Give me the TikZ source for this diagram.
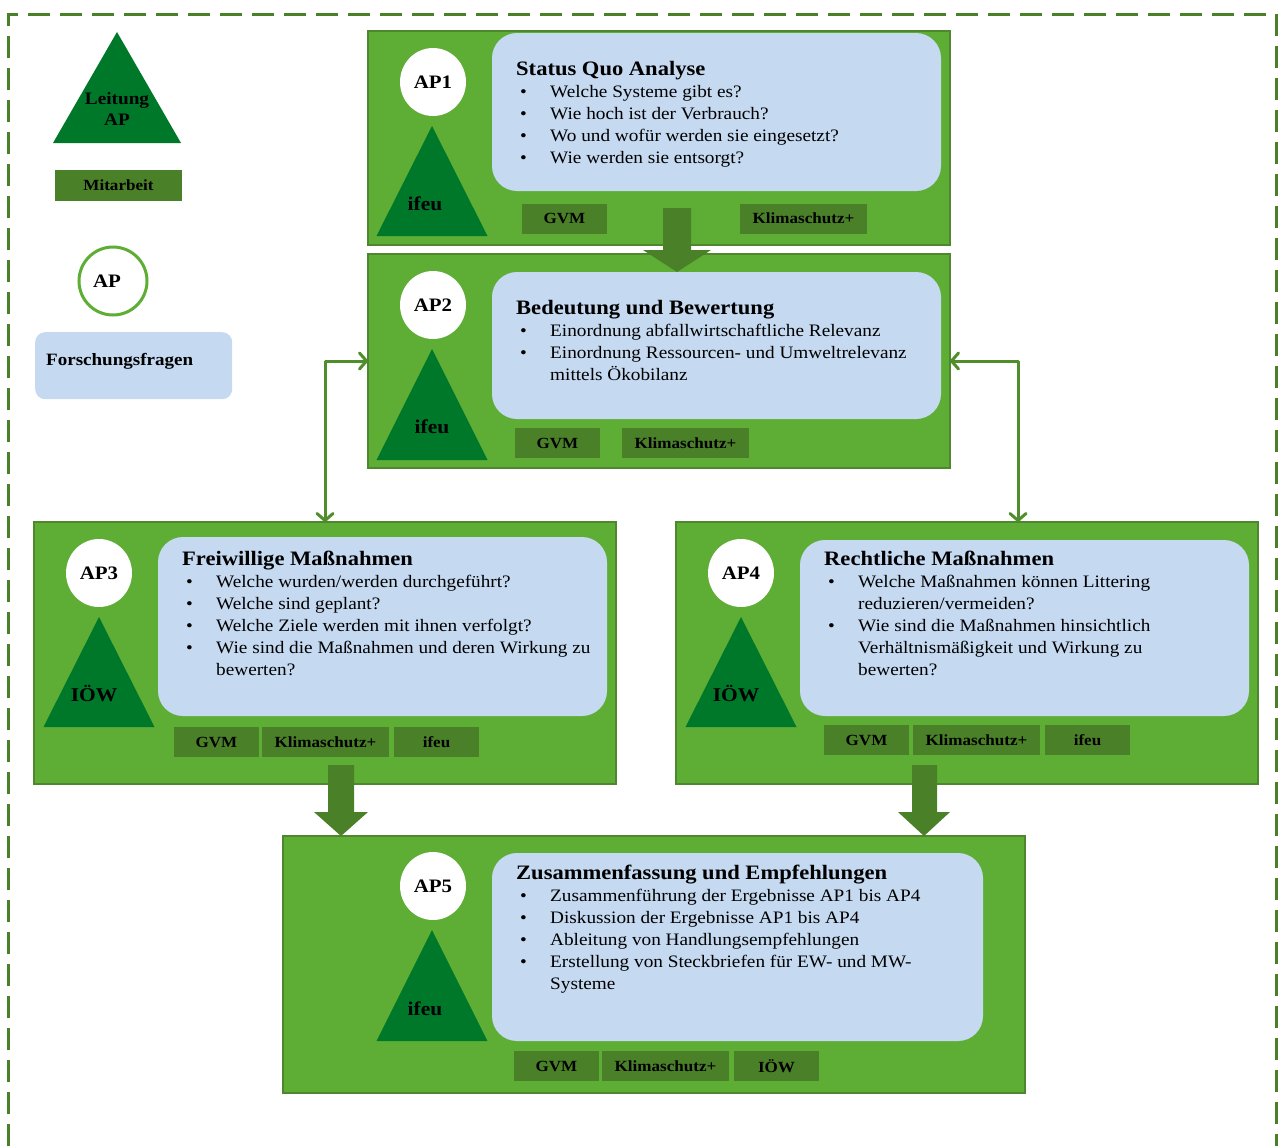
\documentclass[tikz,border=0pt]{standalone}
\usepackage{fontspec}
\setmainfont{Liberation Serif}[FakeStretch=1.1]
\usetikzlibrary{calc,arrows.meta,shapes.geometric}
\definecolor{boxgreen}{RGB}{94,173,53}
\definecolor{boxborder}{RGB}{78,135,45}
\definecolor{mitgreen}{RGB}{74,128,40}
\definecolor{arrgreen}{RGB}{80,142,44}
\definecolor{trigreen}{RGB}{0,120,42}
\definecolor{qblue}{RGB}{197,217,241}
\newcommand\bl{\hspace*{4pt}\textbullet}
\newcommand\qtitle{\fontsize{20.5}{22}\selectfont\bfseries}
\begin{document}
\begin{tikzpicture}[x=1pt,y=-1pt,
  apbox/.style={draw=boxborder, line width=2.5pt, fill=boxgreen, anchor=north west, inner sep=0pt, outer sep=0pt},
  qbox/.style={fill=qblue, rounded corners=25pt, anchor=north west, inner sep=0pt, outer sep=0pt},
  apcirc/.style={ellipse, fill=white, minimum width=66pt, minimum height=68pt, inner sep=0pt, font=\fontsize{19}{20}\selectfont\bfseries},
  mit/.style={fill=mitgreen, minimum width=85pt, minimum height=30pt, inner sep=0pt, font=\fontsize{15.5}{16}\selectfont\bfseries},
  mitw/.style={mit, minimum width=127pt},
  tri/.style={fill=trigreen},
  trilabel/.style={font=\fontsize{19.5}{20}\selectfont\bfseries, inner sep=0pt},
  qtext/.style={anchor=base west, inner sep=0pt, font=\fontsize{17.5}{22}\selectfont},
  blockarrow/.style={fill=mitgreen},
  dbl/.style={draw=arrgreen, line width=3pt, line join=round, {Straight Barb[length=7pt,width=16pt,round]}-{Straight Barb[length=7pt,width=16pt,round]}}
]
\useasboundingbox (0,0) rectangle (1282,1146);
% dashed frame
\draw[mitgreen, line width=3pt, dash pattern=on 22pt off 10pt] (8,1146) -- (8,14) -- (1276,14) -- (1276,1146);

% legend
\fill[tri] (117,32) -- (181,143) -- (53,143) -- cycle;
\node[trilabel, align=center, font=\fontsize{17.5}{21}\selectfont\bfseries] (legtri) at (117,109) {Leitung\\AP};
\node[mit, minimum width=127pt, minimum height=31pt] (legmit) at (118.5,185.5) {Mitarbeit};
\node[circle, draw=boxgreen, line width=3pt, fill=white, minimum size=68pt, inner sep=0pt] (legcirc) at (113,281) {};
\node[font=\fontsize{19}{20}\selectfont\bfseries, inner sep=0pt] (legap) at (107,281) {AP};
\node[fill=qblue, rounded corners=10pt, anchor=north west, minimum width=197pt, minimum height=67pt, inner sep=0pt] (legq) at (35,332) {};
\node[anchor=west, font=\fontsize{17.3}{18}\selectfont\bfseries, inner sep=0pt] (legqt) at (46,361) {Forschungsfragen};

% AP boxes
\node[apbox, minimum width=582pt, minimum height=214pt] (ap1) at (368,31) {};
\node[apbox, minimum width=582pt, minimum height=214pt] (ap2) at (368,254) {};
\node[apbox, minimum width=582pt, minimum height=262pt] (ap3) at (34,522) {};
\node[apbox, minimum width=582pt, minimum height=262pt] (ap4) at (676,522) {};
\node[apbox, minimum width=742pt, minimum height=257pt] (ap5) at (283,836) {};

% question boxes
\node[qbox, minimum width=449pt, minimum height=158pt] (q1) at (492,33) {};
\node[qbox, minimum width=449pt, minimum height=147pt] (q2) at (492,272) {};
\node[qbox, minimum width=449pt, minimum height=179pt] (q3) at (158,537) {};
\node[qbox, minimum width=449pt, minimum height=176pt] (q4) at (800,540) {};
\node[qbox, minimum width=491pt, minimum height=188pt] (q5) at (492,853) {};

% circles
\node[apcirc] (c1) at (433,82) {AP1};
\node[apcirc] (c2) at (433,305) {AP2};
\node[apcirc] (c3) at (99,573) {AP3};
\node[apcirc] (c4) at (741,573) {AP4};
\node[apcirc] (c5) at (433,886) {AP5};

% triangles
\fill[tri] (432,126) -- ++(55.5,110) -- ++(-111,0) -- cycle;
\fill[tri] (432,349) -- ++(55.5,111) -- ++(-111,0) -- cycle;
\fill[tri] (99,617) -- ++(55.5,110) -- ++(-111,0) -- cycle;
\fill[tri] (741,617) -- ++(55.5,110) -- ++(-111,0) -- cycle;
\fill[tri] (432,930) -- ++(55.5,111) -- ++(-111,0) -- cycle;
\node[trilabel] (t1) at (425,204) {ifeu};
\node[trilabel] (t2) at (432,427) {ifeu};
\node[trilabel] (t3) at (94,694) {IÖW};
\node[trilabel] (t4) at (736,694) {IÖW};
\node[trilabel] (t5) at (425,1009) {ifeu};

% question texts
\node[qtext] (q1t) at (516,75) {\begin{tabular}[t]{@{}p{34pt}@{}l@{}}
\multicolumn{2}{@{}l@{}}{\qtitle Status Quo Analyse}\\
\bl & Welche Systeme gibt es?\\
\bl & Wie hoch ist der Verbrauch?\\
\bl & Wo und wofür werden sie eingesetzt?\\
\bl & Wie werden sie entsorgt?
\end{tabular}};
\node[qtext] (q2t) at (516,314) {\begin{tabular}[t]{@{}p{34pt}@{}l@{}}
\multicolumn{2}{@{}l@{}}{\qtitle Bedeutung und Bewertung}\\
\bl & Einordnung abfallwirtschaftliche Relevanz\\
\bl & Einordnung Ressourcen- und Umweltrelevanz\\
 & mittels Ökobilanz
\end{tabular}};
\node[qtext] (q3t) at (182,565) {\begin{tabular}[t]{@{}p{34pt}@{}l@{}}
\multicolumn{2}{@{}l@{}}{\qtitle Freiwillige Maßnahmen}\\
\bl & Welche wurden/werden durchgeführt?\\
\bl & Welche sind geplant?\\
\bl & Welche Ziele werden mit ihnen verfolgt?\\
\bl & Wie sind die Maßnahmen und deren Wirkung zu\\
 & bewerten?
\end{tabular}};
\node[qtext] (q4t) at (824,565) {\begin{tabular}[t]{@{}p{34pt}@{}l@{}}
\multicolumn{2}{@{}l@{}}{\qtitle Rechtliche Maßnahmen}\\
\bl & Welche Maßnahmen können Littering\\
 & reduzieren/vermeiden?\\
\bl & Wie sind die Maßnahmen hinsichtlich\\
 & Verhältnismäßigkeit und Wirkung zu\\
 & bewerten?
\end{tabular}};
\node[qtext] (q5t) at (516,879) {\begin{tabular}[t]{@{}p{34pt}@{}l@{}}
\multicolumn{2}{@{}l@{}}{\qtitle Zusammenfassung und Empfehlungen}\\
\bl & Zusammenführung der Ergebnisse AP1 bis AP4\\
\bl & Diskussion der Ergebnisse AP1 bis AP4\\
\bl & Ableitung von Handlungsempfehlungen\\
\bl & Erstellung von Steckbriefen für EW- und MW-\\
 & Systeme
\end{tabular}};

% Mitarbeit boxes
\node[mit] (m1a) at (564.5,218.5) {GVM};
\node[mitw] (m1b) at (803.5,218.5) {Klimaschutz+};
\node[mit] (m2a) at (557.5,443) {GVM};
\node[mitw] (m2b) at (685.5,443) {Klimaschutz+};
\node[mit] (m3a) at (216.5,742) {GVM};
\node[mitw] (m3b) at (325.5,742) {Klimaschutz+};
\node[mit] (m3c) at (436.5,742) {ifeu};
\node[mit] (m4a) at (866.5,740) {GVM};
\node[mitw] (m4b) at (976.5,740) {Klimaschutz+};
\node[mit] (m4c) at (1087.5,740) {ifeu};
\node[mit] (m5a) at (556.5,1066) {GVM};
\node[mitw] (m5b) at (665.5,1066) {Klimaschutz+};
\node[mit] (m5c) at (776.5,1066) {IÖW};

% block arrows
\coordinate (a12) at (677,272);
\coordinate (a35) at (341,836);
\coordinate (a45) at (924,836);
\fill[blockarrow] (a12) -- ++(-34,-22) -- ++(20,0) -- ++(0,-42) -- ++(28,0) -- ++(0,42) -- ++(20,0) -- cycle;
\fill[blockarrow] (a35) -- ++(-27,-24) -- ++(14,0) -- ++(0,-47) -- ++(26,0) -- ++(0,47) -- ++(14,0) -- cycle;
\fill[blockarrow] (a45) -- ++(-26,-24) -- ++(14,0) -- ++(0,-47) -- ++(25,0) -- ++(0,47) -- ++(13,0) -- cycle;

% double arrows
\draw[dbl] (ap2.west) -| (ap3.north);
\draw[dbl] (ap2.east) -| ([xshift=51pt]ap4.north);
\end{tikzpicture}
\end{document}
